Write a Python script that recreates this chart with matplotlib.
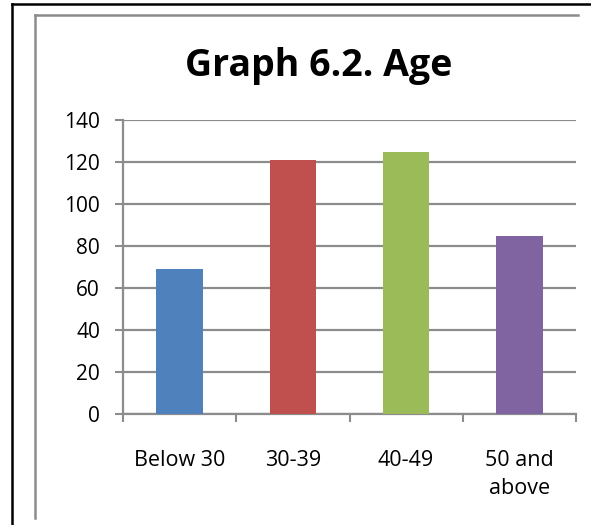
import matplotlib
matplotlib.use("Agg")
import matplotlib.pyplot as plt
from matplotlib.lines import Line2D

categories = ["Below 30", "30-39", "40-49", "50 and\nabove"]
counts = [69, 121, 125, 85]
bar_colors = ["#4F81BD", "#C0504D", "#9BBB59", "#8064A2"]
y_ticks = [0, 20, 40, 60, 80, 100, 120, 140]

W, H = 591, 525
GRID = "#8C8C8C"

plt.rcParams["font.family"] = ["Open Sans", "DejaVu Sans"]

fig = plt.figure(figsize=(W / 100, H / 100), dpi=100)


def px(x, y):
    return x / W, 1 - y / H


# plot area in pixel coordinates
left, right, top, bottom = 123, 576, 120, 414
ax = fig.add_axes([left / W, 1 - bottom / H, (right - left) / W, (bottom - top) / H])

x = range(len(categories))
ax.bar(x, counts, width=0.41, color=bar_colors, zorder=3)

ax.set_xlim(-0.5, len(categories) - 0.5)
ax.set_ylim(0, 140)
ax.set_yticks(y_ticks)
ax.set_xticks(list(x))
ax.set_xticklabels(categories, fontsize=15.5, linespacing=1.45)
ax.set_xticks([i - 0.5 for i in range(len(categories) + 1)], minor=True)
ax.tick_params(axis="x", which="major", length=0, pad=26)
ax.tick_params(axis="x", which="minor", length=5.5, width=1.5, color=GRID, direction="out")
ax.tick_params(axis="y", length=5.5, width=1.5, color=GRID, labelsize=15, pad=11)

ax.yaxis.grid(True, color=GRID, linewidth=1.6, zorder=0)
for side in ("top", "right"):
    ax.spines[side].set_visible(False)
for side in ("left", "bottom"):
    ax.spines[side].set_color(GRID)
    ax.spines[side].set_linewidth(1.6)

fig.text(319 / W, 1 - 76 / H, "Graph 6.2. Age", ha="center", va="baseline",
         fontsize=27, fontweight="bold")

# outer black frame (top and left edges)
fig.add_artist(Line2D(*zip(px(12, 4), px(W, 4)), color="black", linewidth=1.8))
fig.add_artist(Line2D(*zip(px(12, 4), px(12, H)), color="black", linewidth=1.8))
# inner gray chart border
fig.add_artist(Line2D(*zip(px(35, 15), px(578, 15)), color=GRID, linewidth=1.8))
fig.add_artist(Line2D(*zip(px(35, 15), px(35, 518)), color=GRID, linewidth=1.8))

fig.savefig("out.png", dpi=100)
